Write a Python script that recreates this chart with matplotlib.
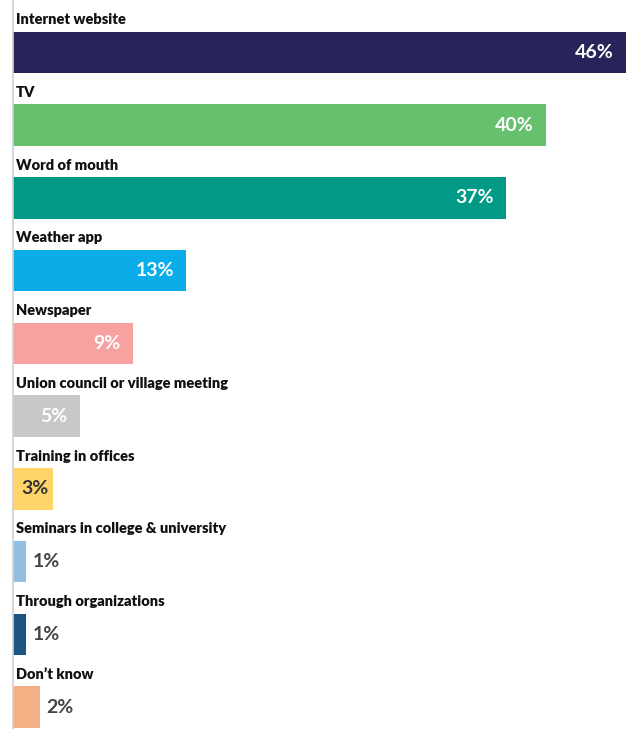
import matplotlib.pyplot as plt

categories = [
    "Internet website",
    "TV",
    "Word of mouth",
    "Weather app",
    "Newspaper",
    "Union council or village meeting",
    "Training in offices",
    "Seminars in college & university",
    "Through organizations",
    "Don\u2019t know",
]
shares = [46, 40, 37, 13, 9, 5, 3, 1, 1, 2]
colors = [
    "#262459", "#66c06e", "#009a87", "#0bade8", "#f7a1a1",
    "#c8c8c8", "#ffd56a", "#93bee2", "#1e5480", "#f4b084",
]

plt.rcParams["font.family"] = ["Lato", "DejaVu Sans"]

fig = plt.figure(figsize=(6.26, 7.29), dpi=100)
ax = fig.add_axes([13 / 626, 0, 1 - 13 / 626, 1])

ypos = list(range(len(categories)))
ax.barh(ypos, shares, height=0.57, color=colors)

ax.set_xlim(0, 46)
ax.set_ylim(9.3, -0.72)

for i, (cat, val) in enumerate(zip(categories, shares)):
    ax.text(0.2, i - 0.45, cat, ha="left", va="center",
            fontsize=10.5, fontweight="heavy", color="#111111")
    label = f"{val}%"
    if val >= 5:
        ax.text(val - 0.9, i, label, ha="right", va="center",
                fontsize=14, fontweight="bold", color="white")
    elif val >= 3:
        ax.text(val - 0.3, i, label, ha="right", va="center",
                fontsize=14, fontweight="bold", color="#333333")
    else:
        ax.text(val + 0.5, i, label, ha="left", va="center",
                fontsize=14, fontweight="bold", color="#444444")

for side in ["top", "right", "bottom"]:
    ax.spines[side].set_visible(False)
ax.spines["left"].set_color("#d0d0d0")
ax.spines["left"].set_linewidth(1.2)
ax.set_xticks([])
ax.set_yticks([])

fig.savefig("out.png", dpi=100)
